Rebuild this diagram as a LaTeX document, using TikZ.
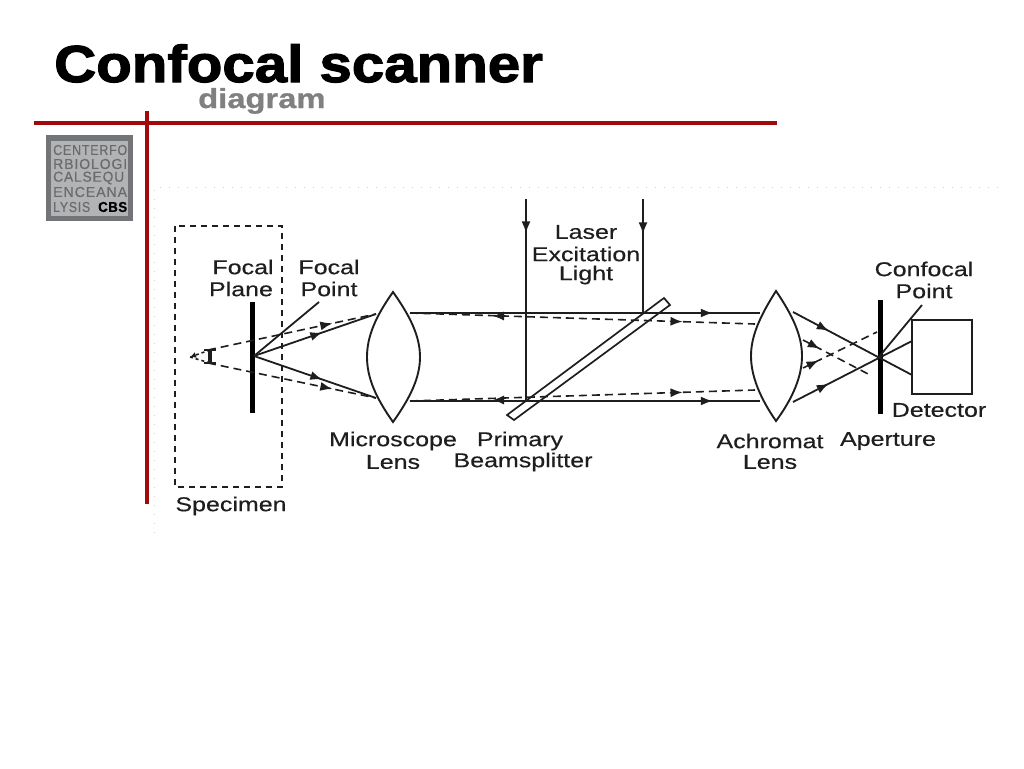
\documentclass[tikz,border=0pt]{standalone}
\usepackage{fontspec}
\setmainfont{Liberation Sans}
\newfontfamily\titlefont[FakeBold=2.2,FakeStretch=1.12]{Liberation Sans Bold}
\newfontfamily\subfont[FakeBold=0.8,FakeStretch=1.19]{Liberation Sans Bold}
\newfontfamily\labelfont[FakeStretch=1.25,FakeBold=0.35]{Liberation Sans}
\newfontfamily\logofont[LetterSpace=6,FakeBold=0.4]{Liberation Sans}
\newfontfamily\logobold[LetterSpace=3,FakeBold=0.3]{Liberation Sans Bold}
\usetikzlibrary{arrows.meta,decorations.markings}
\definecolor{deepred}{HTML}{A00A0A}
\definecolor{ink}{HTML}{1E1E1E}
\definecolor{logodark}{HTML}{737477}
\definecolor{logolight}{HTML}{B2B3B4}
\definecolor{logotext}{HTML}{6A6B6D}
\newcommand{\logofit}[2]{\resizebox{#1pt}{10pt}{#2}}
\tikzset{
  x=1pt,y=-1pt,
  optic/.style={draw=ink,line width=1.9pt},
  ray/.style={draw=ink,line width=1.8pt},
  dashray/.style={draw=ink,line width=1.6pt,dash pattern=on 8pt off 5pt},
  bar/.style={draw=black,line width=5pt},
  redline/.style={draw=deepred,line width=4pt},
  faint/.style={draw=black!18,line width=1pt,dash pattern=on 1pt off 8pt},
  midarrow/.style={postaction={decorate,decoration={markings,mark=at position #1 with {\arrow{Latex[length=12pt,width=9pt]}}}}},
  lab/.style={font=\labelfont\fontsize{20}{20}\selectfont,text=ink,inner sep=0pt,anchor=center},
  logoline/.style={font=\logofont\fontsize{13.5}{13.5}\selectfont,text=logotext,inner sep=0pt,anchor=west},
}
\begin{document}
\begin{tikzpicture}
\useasboundingbox (0,0) rectangle (1024,768);
\fill[white] (0,0) rectangle (1024,768);
% title
\node[inner sep=0pt,anchor=base west,font=\titlefont\fontsize{52}{52}\selectfont] (title) at (54,82) {Confocal scanner};
\node[inner sep=0pt,anchor=base west,text=black!50,font=\subfont\fontsize{27.5}{27.5}\selectfont] (sub) at (198,108) {diagram};
% faint dotted traces
\coordinate (fa) at (160,187); \coordinate (fb) at (1000,187);
\coordinate (fc) at (154,190); \coordinate (fd) at (154,535);
\draw[faint] (fa) -- (fb);
\draw[faint] (fc) -- (fd);
% red rules
\coordinate (ra) at (34,123); \coordinate (rb) at (777,123);
\coordinate (rc) at (147,111); \coordinate (rd) at (147,504);
\draw[redline] (ra) -- (rb);
\draw[redline] (rc) -- (rd);
% logo
\fill[logodark] (46,135) rectangle (133,221);
\fill[logolight] (51,141) rectangle (128,216);
\node[logoline] (l1) at (53,150) {\logofit{74}{CENTERFO}};
\node[logoline] (l2) at (53,164) {\logofit{74}{RBIOLOGI}};
\node[logoline] (l3) at (53,178) {\logofit{71}{CALSEQU}};
\node[logoline] (l4) at (53,192) {\logofit{74}{ENCEANA}};
\node[logoline] (l5) at (53,207) {\logofit{37}{LYSIS}};
\node[inner sep=0pt,anchor=west,font=\logobold\fontsize{13.5}{13.5}\selectfont] (l6) at (98,207) {\logofit{29}{CBS}};
% specimen box
\draw[draw=ink,line width=1.5pt,dash pattern=on 6pt off 5pt] (175,226) rectangle (282,487);
% key points
\coordinate (fp) at (254,356);
\coordinate (mu) at (376,314); \coordinate (ml) at (376,398);
\coordinate (mur) at (410,313); \coordinate (mlr) at (410,401);
\coordinate (au) at (760,313); \coordinate (al) at (760,401);
\coordinate (adu) at (755,324); \coordinate (adl) at (755,390);
\coordinate (vu) at (208,350); \coordinate (vl) at (208,363);
\coordinate (vt) at (190,357);
\coordinate (ilt) at (204,350); \coordinate (irt) at (216,350);
\coordinate (ilb) at (204,363); \coordinate (irb) at (216,363);
\coordinate (ic) at (210,350); \coordinate (id) at (210,363);
\coordinate (fpl) at (319,302);
% focal plane and aperture
\coordinate (pt) at (252,302); \coordinate (pb) at (252,413);
\coordinate (at) at (880,300); \coordinate (ab) at (880,414);
\draw[bar] (pt) -- (pb);
\draw[bar] (at) -- (ab);
% microscope lens
\coordinate (mt) at (393,292); \coordinate (mb) at (393,422);
\path[optic] (mt) .. controls (376,316) and (367,336) .. (367,357)
  .. controls (367,378) and (376,398) .. (mb)
  .. controls (410,398) and (420,378) .. (420,357)
  .. controls (420,336) and (410,316) .. (mt) -- cycle;
% achromat lens
\coordinate (act) at (776,291); \coordinate (acb) at (776,421);
\path[optic] (act) .. controls (760,316) and (751,336) .. (751,356)
  .. controls (751,376) and (760,398) .. (acb)
  .. controls (793,398) and (802,376) .. (802,356)
  .. controls (802,336) and (793,316) .. (act) -- cycle;
% rays, specimen side
\path[ray,midarrow=0.56] (fp) -- (mu);
\path[ray,midarrow=0.56] (fp) -- (ml);
\path[dashray,midarrow=0.74] (vu) -- (mu);
\path[dashray,midarrow=0.74] (vl) -- (ml);
\draw[ray] (fpl) -- (fp);
\draw[dashray,dash pattern=on 3pt off 3pt,-{Latex[length=6pt,width=6pt]}] (ic) -- (vt);
\draw[dashray,dash pattern=on 3pt off 3pt] (id) -- (vt);
\draw[ink,line width=2.4pt] (ilt) -- (irt) (ilb) -- (irb);
\draw[ink,line width=3.5pt] (ic) -- (id);
% parallel beams
\path[ray,midarrow=0.865] (mur) -- (au);
\path[ray,midarrow=0.865] (mlr) -- (al);
\path[dashray,midarrow=0.79] (mur) -- (adu);
\path[dashray,midarrow=0.79] (mlr) -- (adl);
\coordinate (ldu1) at (505,316); \coordinate (ldu0) at (493,316);
\coordinate (ldl1) at (505,400); \coordinate (ldl0) at (493,400);
\draw[ink,line width=.8pt,-{Latex[length=11pt,width=9pt]}] (ldu1) -- (ldu0);
\draw[ink,line width=.8pt,-{Latex[length=11pt,width=9pt]}] (ldl1) -- (ldl0);
% laser
\coordinate (la) at (526,199); \coordinate (lb) at (526,401);
\coordinate (lc) at (643,199); \coordinate (ld) at (643,313);
\path[ray,midarrow=0.17] (la) -- (lb);
\path[ray,midarrow=0.31] (lc) -- (ld);
% beamsplitter
\coordinate (b1) at (507,415); \coordinate (b2) at (664,298);
\coordinate (b3) at (670,305); \coordinate (b4) at (514,420);
\path[draw=ink,line width=1.7pt] (b1) -- (b2) -- (b3) -- (b4) -- cycle;
% achromat to detector
\coordinate (c1) at (793,312); \coordinate (c2) at (793,402);
\coordinate (c3) at (912,375); \coordinate (c4) at (912,341);
\coordinate (d1) at (803,340); \coordinate (d2) at (870,375);
\coordinate (d3) at (803,368); \coordinate (d4) at (877,332);
\coordinate (cpl) at (922,305); \coordinate (cpe) at (878,358);
\path[ray,midarrow=0.3] (c1) -- (c3);
\path[ray,midarrow=0.3] (c2) -- (c4);
\path[dashray,midarrow=0.25] (d1) -- (d2);
\path[dashray,midarrow=0.21] (d3) -- (d4);
\draw[ray] (cpl) -- (cpe);
% detector
\draw[draw=ink,line width=1.9pt] (912,320) rectangle (972,394);
% labels
\node[lab] (t1) at (243,267) {Focal};
\node[lab] (t2) at (241,289) {Plane};
\node[lab] (t3) at (329,267) {Focal};
\node[lab] (t4) at (329,289) {Point};
\node[lab] (t5) at (393,441) {Microscope};
\node[lab] (t6) at (393,462) {Lens};
\node[lab] (t7) at (520,441) {Primary};
\node[lab] (t8) at (523,462) {Beamsplitter};
\node[lab] (t9) at (586,232) {Laser};
\node[lab] (t10) at (586,254) {Excitation};
\node[lab] (t11) at (586,275) {Light};
\node[lab] (t12) at (924,269) {Confocal};
\node[lab] (t13) at (924,291) {Point};
\node[lab] (t14) at (939,410) {Detector};
\node[lab] (t15) at (770,441) {Achromat};
\node[lab] (t16) at (770,462) {Lens};
\node[lab] (t17) at (888,441) {Aperture};
\node[lab] (t18) at (231,506) {Specimen};
\end{tikzpicture}
\end{document}
